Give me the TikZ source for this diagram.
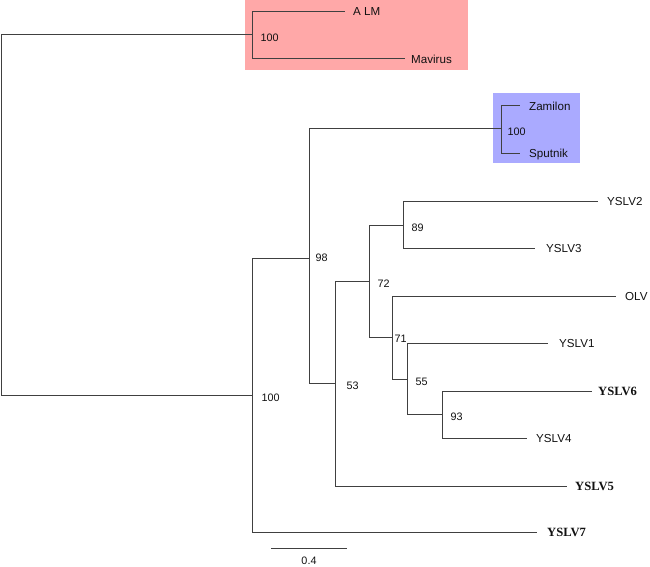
\documentclass[tikz,border=0pt]{standalone}
\usepackage{fontspec}
\setmainfont{Liberation Sans}
\newfontfamily\tipserif{Liberation Serif}
\usetikzlibrary{positioning}
\definecolor{treeInk}{HTML}{404040}
\definecolor{treeText}{HTML}{111111}
\definecolor{treePink}{HTML}{FFA8A8}
\definecolor{treeBlue}{HTML}{AAAAFF}
\tikzset{
  every picture/.style={font=\fontsize{11.6}{13}\selectfont, text=treeText},
  tree branch/.style={draw=treeInk, line width=1pt},
  tree tip/.style={anchor=west, inner sep=1pt, text depth=0pt},
  tree bold tip/.style={tree tip, font=\tipserif\bfseries\fontsize{12.6}{14}\selectfont},
  tree support/.style={anchor=west, inner sep=0.5pt, text depth=0pt,
    font=\fontsize{10.8}{12}\selectfont}
}

\begin{document}
\begin{tikzpicture}[x=1pt,y=-1pt]
  \useasboundingbox (0,0) rectangle (650,567);
  \fill[treePink] (245,0) rectangle (468,70);
  \fill[treeBlue] (493,93) rectangle (580,163);
  \coordinate (root) at (1,215);
  \coordinate (mav) at (252,35);
  \coordinate (n100) at (252,395);
  \coordinate (n98) at (309,258);
  \coordinate (zam) at (501,129);
  \coordinate (n53) at (335,383);
  \coordinate (n72) at (369,281);
  \coordinate (n89) at (403,225);
  \coordinate (n71) at (392,337);
  \coordinate (n55) at (407,379);
  \coordinate (n93) at (442,414);
  \coordinate (tALM) at (345,12);
  \coordinate (tMavirus) at (405,59);
  \coordinate (tZamilon) at (520,106);
  \coordinate (tSputnik) at (520,153);
  \coordinate (tYSLV2) at (598,201);
  \coordinate (tYSLV3) at (535,248);
  \coordinate (tOLV) at (616,296);
  \coordinate (tYSLV1) at (548,343);
  \coordinate (tYSLV6) at (592,391);
  \coordinate (tYSLV4) at (527,438);
  \coordinate (tYSLV5) at (567,486);
  \coordinate (tYSLV7) at (537,532);
  \foreach \p/\c in {root/mav, root/n100, mav/tALM, mav/tMavirus, n100/n98, n100/tYSLV7,
      n98/zam, n98/n53, zam/tZamilon, zam/tSputnik, n53/n72, n53/tYSLV5, n72/n89, n72/n71,
      n89/tYSLV2, n89/tYSLV3, n71/tOLV, n71/n55, n55/tYSLV1, n55/n93, n93/tYSLV6, n93/tYSLV4}
    \draw[tree branch] (\p) |- (\c);
  \node[tree tip, right=7pt of tALM] (ALM) {A LM};
  \node[tree tip, right=5pt of tMavirus] (Mavirus) {Mavirus};
  \node[tree tip, right=8pt of tZamilon] (Zamilon) {Zamilon};
  \node[tree tip, right=8pt of tSputnik] (Sputnik) {Sputnik};
  \node[tree tip, right=8pt of tYSLV2] (YSLV2) {YSLV2};
  \node[tree tip, right=10pt of tYSLV3] (YSLV3) {YSLV3};
  \node[tree tip, right=8pt of tOLV] (OLV) {OLV};
  \node[tree tip, right=10pt of tYSLV1] (YSLV1) {YSLV1};
  \node[tree bold tip, right=5pt of tYSLV6] (YSLV6) {YSLV6};
  \node[tree tip, right=8pt of tYSLV4] (YSLV4) {YSLV4};
  \node[tree bold tip, right=7pt of tYSLV5] (YSLV5) {YSLV5};
  \node[tree bold tip, right=9pt of tYSLV7] (YSLV7) {YSLV7};
  \node[tree support, right=8pt of mav, yshift=-3pt] (sMav) {100};
  \node[tree support, right=9pt of n100, yshift=-3pt] (s100) {100};
  \node[tree support, right=6pt of n98] (s98) {98};
  \node[tree support, right=6pt of zam, yshift=-3pt] (sZam) {100};
  \node[tree support, right=11pt of n53, yshift=-3pt] (s53) {53};
  \node[tree support, right=8pt of n72, yshift=-3pt] (s72) {72};
  \node[tree support, right=8pt of n89, yshift=-3pt] (s89) {89};
  \node[tree support, right=2pt of n71, yshift=-2pt] (s71) {71};
  \node[tree support, right=8pt of n55, yshift=-3pt] (s55) {55};
  \node[tree support, right=8pt of n93, yshift=-3pt] (s93) {93};
  \coordinate (barL) at (271,548);
  \coordinate (barR) at (347,548);
  \draw[tree branch] (barL) -- (barR);
  \node[tree support, below=8pt] (barLabel) at (309,548) {0.4};
\end{tikzpicture}
\end{document}
